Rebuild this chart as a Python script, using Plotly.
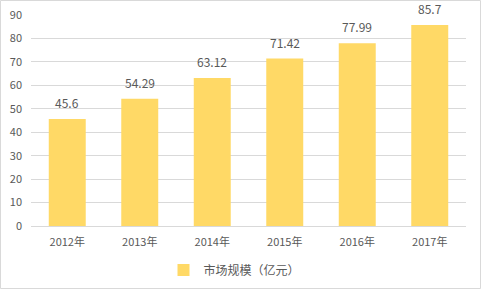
import plotly.graph_objects as go

categories = ["2012年", "2013年", "2014年", "2015年", "2016年", "2017年"]
values = [45.6, 54.29, 63.12, 71.42, 77.99, 85.7]
labels = ["45.6", "54.29", "63.12", "71.42", "77.99", "85.7"]
series_name = "市场规模（亿元）"
y_ticks = [0, 10, 20, 30, 40, 50, 60, 70, 80, 90]

W, H = 481, 289
ml, mr, mt, mb = 31, 15, 15, 63
pw, ph = W - ml - mr, H - mt - mb

font_family = "Noto Sans CJK SC, Microsoft YaHei, sans-serif"
grey = "#595959"

fig = go.Figure()
fig.add_trace(go.Bar(
    x=categories, y=values, name=series_name,
    marker=dict(color="#FFD966", line=dict(width=0)),
    hoverinfo="skip",
))

annotations = [dict(x=c, y=v, text=t, xref="x", yref="y", showarrow=False,
                    yanchor="bottom", yshift=6,
                    font=dict(size=12, color=grey, family=font_family))
               for c, v, t in zip(categories, values, labels)]

fig.update_layout(
    width=W, height=H,
    margin=dict(l=ml, r=mr, t=mt, b=mb, pad=0, autoexpand=False),
    paper_bgcolor="white", plot_bgcolor="white",
    bargap=0.49,
    showlegend=True,
    legend=dict(orientation="h", x=0.5 - 6 / W, xanchor="center", xref="container",
                y=1 - 270 / H, yanchor="middle", yref="container",
                font=dict(size=12, color=grey, family=font_family),
                itemwidth=30),
    font=dict(family=font_family, size=11, color=grey),
    xaxis=dict(showgrid=False, showline=True, linecolor="#D9D9D9", linewidth=1,
               ticks="", tickfont=dict(size=11, color=grey), fixedrange=True,
               ticklabelstandoff=6, automargin=False),
    yaxis=dict(range=[0, 90], tickvals=y_ticks, showgrid=True, gridcolor="#D9D9D9",
               gridwidth=1, zeroline=False, showline=False, ticks="",
               tickfont=dict(size=11, color=grey), ticklabelstandoff=8,
               automargin=False),
    annotations=annotations,
    shapes=[dict(type="rect", xref="paper", yref="paper",
                 x0=(0.5 - ml) / pw, x1=(W - 0.5 - ml) / pw,
                 y0=-(H - 0.5 - mt - ph) / ph, y1=(H - 0.5 - mb) / ph,
                 line=dict(color="#D9D9D9", width=1), layer="below")],
)

fig.write_html("out.html")
